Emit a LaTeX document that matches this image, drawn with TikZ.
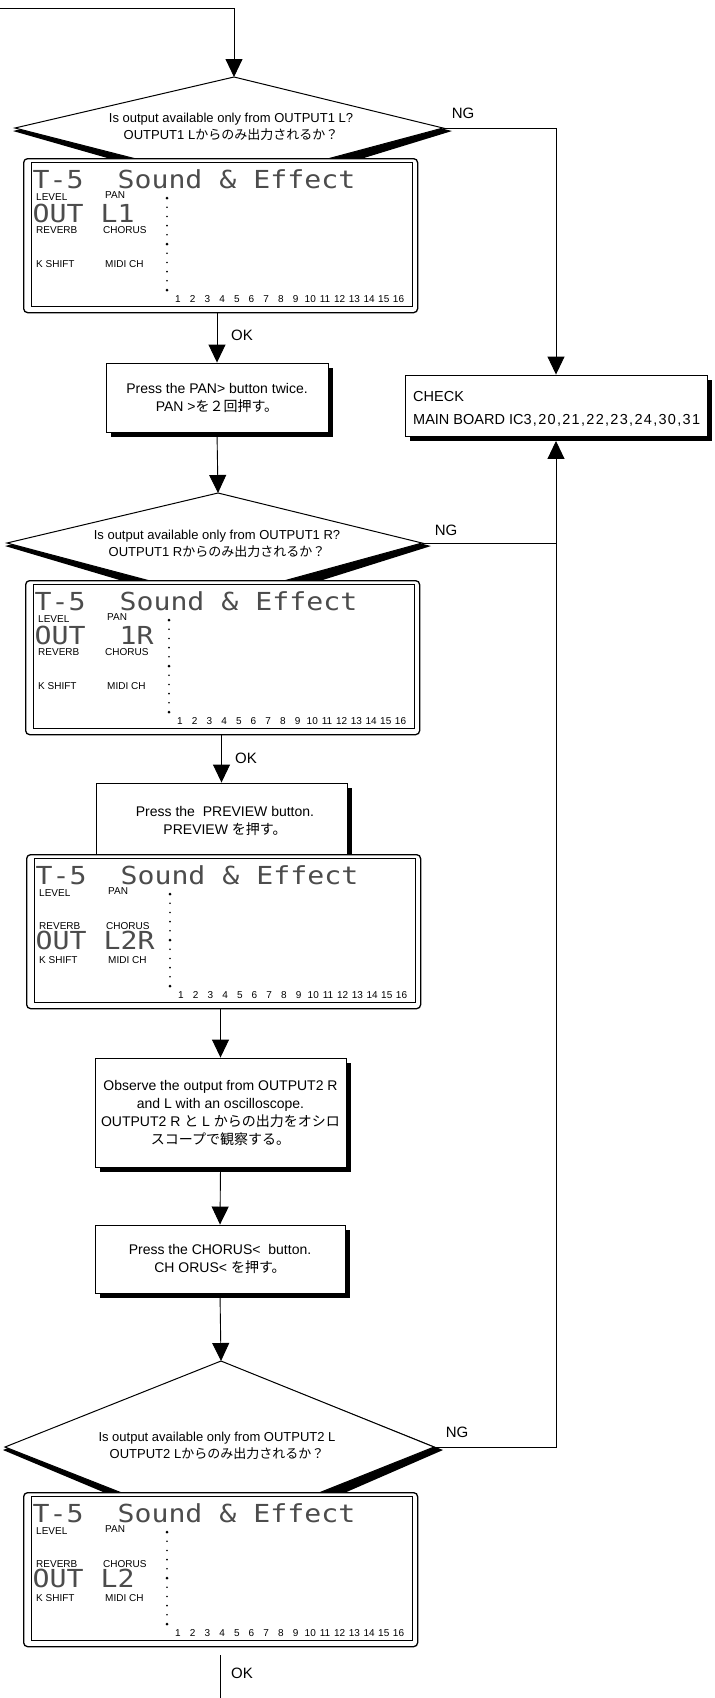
\documentclass[tikz,border=0pt]{standalone}
\usepackage{fontspec}
\usepackage{graphicx}
\setmainfont{Liberation Sans}
\newfontfamily\jp{Noto Sans CJK JP}
\newfontfamily\lcdf{DejaVu Sans Mono}
\usetikzlibrary{arrows.meta,shadows}

\tikzset{
  conn/.style={line width=0.9pt},
  arr/.style={conn, -{Triangle[width=17pt,length=18pt]}},
  fbox/.style={draw, fill=white, line width=0.9pt, inner sep=0pt,
    drop shadow={shadow xshift=4.5pt, shadow yshift=-4.5pt, opacity=1, fill=black}},
  txt/.style={font=\fontsize{14}{18}\selectfont, align=center, inner sep=0pt},
  dtxt/.style={font=\fontsize{13}{17}\selectfont, align=center, inner sep=0pt},
  lbl/.style={font=\fontsize{15}{15}\selectfont, inner sep=0pt},
  lcdbox/.style={draw, fill=white, line width=1.3pt, rounded corners=4pt,
    minimum width=394pt, minimum height=154pt, inner sep=0pt},
  lcdin/.style={draw, line width=0.8pt, minimum width=381pt, minimum height=144pt, inner sep=0pt},
  lcdlab/.style={font=\fontsize{10}{10}\selectfont, inner sep=0pt, anchor=west},
  lcdnum/.style={font=\fontsize{10}{10}\selectfont, inner sep=0pt},
  lcdbig/.style={inner sep=0pt, anchor=base west, text=black!70},
  diam/.style={draw, fill=white, line width=1pt, line join=miter},
}

\newcommand\lcdtext[1]{\scalebox{1}[0.88]{\fontsize{28.2}{28.2}\lcdf #1}}

% #1 name, #2 x, #3 y (top-left), #4 big text, #5 big baseline
\newcommand\lcdpanel[5]{%
\begin{scope}[shift={(#2,#3)}]
  \node[lcdbox, anchor=north west] (#1) at (0,0) {};
  \node[lcdin, anchor=north west] (#1-in) at (7.5,4) {};
  \node[lcdbig] (#1-title) at (9.5,30) {\lcdtext{T-5\ \ Sound \& Effect}};
  \node[lcdbig] (#1-big) at (9.5,#5) {\lcdtext{#4}};
  \node[lcdlab] (#1-level) at (13,39) {LEVEL};
  \node[lcdlab] (#1-pan) at (82,37) {PAN};
  \node[lcdlab] (#1-rev) at (13,72) {REVERB};
  \node[lcdlab] (#1-cho) at (80,72) {CHORUS};
  \node[lcdlab] (#1-ks) at (13,106) {K SHIFT};
  \node[lcdlab] (#1-midi) at (82,106) {MIDI CH};
  \foreach \i in {0,...,10}{
    \ifnum\i=0 \fill (144,40) circle (1.5pt);
    \else\ifnum\i=5 \fill (144,{40+9.2*\i}) circle (1.5pt);
    \else\ifnum\i=10 \fill (144,{40+9.2*\i}) circle (1.5pt);
    \else \fill (144,{40+9.2*\i}) circle (0.9pt);
    \fi\fi\fi}
  \foreach \n in {1,...,16}{
    \node[lcdnum] (#1-n\n) at ({155+14.7*(\n-1)},141) {\n};}
\end{scope}}

\begin{document}
\begin{tikzpicture}[x=1pt,y=-1pt]
\useasboundingbox (0,0) rectangle (715,1698);

% ---------- decision 1
\coordinate (d1t) at (234,77);
\coordinate (d1r) at (443,128);
\coordinate (d1b) at (234,184);
\coordinate (d1l) at (15,128);
\fill (13,131) -- (240,196) -- (452,131) -- (234,77) -- cycle;
\draw[diam] (d1t) -- (d1r) -- (d1b) -- (d1l) -- cycle;
\node[dtxt] (d1txt) at (231,126.5) {Is output available only from OUTPUT1 L?\\OUTPUT1 L{\jp からのみ出力されるか？}};

% ---------- decision 2
\coordinate (d2t) at (218,493);
\coordinate (d2r) at (422,543);
\coordinate (d2b) at (218,599);
\coordinate (d2l) at (7,543);
\fill (5,546) -- (224,611) -- (431,546) -- (218,493) -- cycle;
\draw[diam] (d2t) -- (d2r) -- (d2b) -- (d2l) -- cycle;
\node[dtxt] (d2txt) at (217,543.5) {Is output available only from OUTPUT1 R?\\OUTPUT1 R{\jp からのみ出力されるか？}};

% ---------- decision 3
\coordinate (d3t) at (221,1361);
\coordinate (d3r) at (434,1447);
\coordinate (d3b) at (221,1532);
\coordinate (d3l) at (5,1447);
\fill (3,1450) -- (227,1544) -- (443,1450) -- (221,1361) -- cycle;
\draw[diam] (d3t) -- (d3r) -- (d3b) -- (d3l) -- cycle;
\node[dtxt] (d3txt) at (217,1446) {Is output available only from OUTPUT2 L\\OUTPUT2 L{\jp からのみ出力されるか？}};

% ---------- process boxes
\node[fbox, txt, minimum width=222pt, minimum height=69pt] (pan) at (217,397.5)
  {Press the PAN> button twice.\\PAN >{\jp を２回押す。}};
\node[fbox, minimum width=302pt, minimum height=61pt] (check) at (556,405.5) {};
\node[txt, font=\fontsize{14.5}{18}\selectfont, anchor=base west] (checkt1) at (413,401) {CHECK};
\node[txt, font=\fontsize{14.5}{18}\selectfont, anchor=base west] (checkt2) at (413,424)
  {MAIN BOARD IC{\addfontfeature{LetterSpace=9}3,20,21,22,23,24,30,31}};
\node[fbox, minimum width=251pt, minimum height=97pt] (preview) at (221.5,831.5) {};
\node[txt] (previewt) at (225,820.5) {Press the\ \ PREVIEW button.\\PREVIEW {\jp を押す。}};
\node[fbox, txt, minimum width=251pt, minimum height=109pt] (observe) at (220.5,1112.5)
  {Observe the output from OUTPUT2 R\\and L with an oscilloscope.\\OUTPUT2 R {\jp と} L {\jp からの出力をオシロ}\\{\jp スコープで観察する。}};
\node[fbox, txt, minimum width=250pt, minimum height=68pt] (chorus) at (220,1259)
  {Press the CHORUS<\ \ button.\\CH ORUS< {\jp を押す。}};

% ---------- LCD panels
\lcdpanel{lcd1}{23}{158}{OUT L1}{64}
\lcdpanel{lcd2}{25}{580}{OUT\ \ 1R}{64}
\lcdpanel{lcd3}{26}{854}{OUT L2R}{95}
\lcdpanel{lcd4}{23}{1492}{OUT L2}{95}

% ---------- connectors
\coordinate (start) at (0,8);
\draw[arr] (start) -| (d1t);
\draw[arr] (d1r) -| (check.north);
\draw[arr] (pan.north |- lcd1.south) -- (pan.north);
\draw[arr] (pan.south) -- (d2t);
\draw[conn] (d2r) -- (d2r -| check.south);
\coordinate (checkbot) at ([yshift=-4.5pt]check.south);
\draw[arr] (d3r) -| (checkbot);
\draw[arr] (preview.north |- lcd2.south) -- (preview.north);
\draw[arr] (observe.north |- lcd3.south) -- (observe.north);
\draw[arr] (observe.south) -- (chorus.north);
\draw[arr] (chorus.south) -- (d3t);
\coordinate (endpt) at (220,1698);
\draw[conn] (endpt |- lcd4.south) ++(0,8) -- (endpt);

% ---------- labels
\node[lbl] (ng1) at (463,113) {NG};
\node[lbl] (ng2) at (446,530) {NG};
\node[lbl] (ng3) at (457,1432) {NG};
\node[lbl] (ok1) at (242,335) {OK};
\node[lbl] (ok2) at (246,758) {OK};
\node[lbl] (ok3) at (242,1673) {OK};
\end{tikzpicture}
\end{document}
